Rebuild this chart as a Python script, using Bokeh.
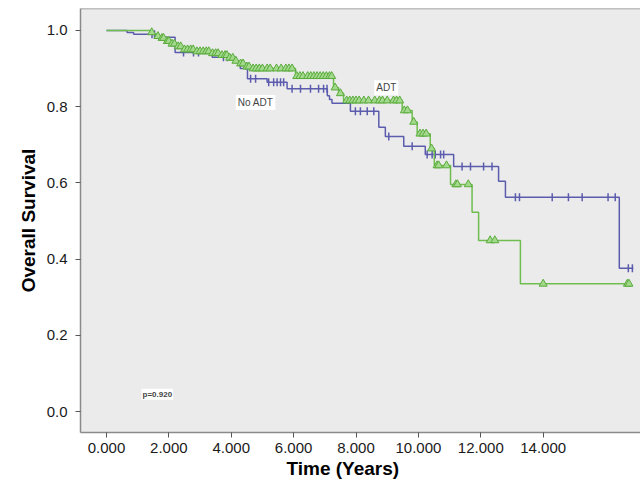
import math
from bokeh.plotting import figure
from bokeh.models import FixedTicker, PrintfTickFormatter, Label, Span, Range1d, Title
from bokeh.embed import file_html
from bokeh.resources import INLINE

# ---- data ----
# No ADT curve: step times (years) and survival levels
no_adt_t = [0.0, 0.66, 0.87, 1.67, 2.20, 3.39, 4.13, 4.29, 4.52, 5.15, 5.79, 7.08, 7.15,
            7.23, 7.82, 8.73, 8.94, 9.53, 10.22, 11.13, 12.57, 12.79, 16.44, 16.89]
no_adt_s = [1.0, 0.995, 0.99, 0.982, 0.942, 0.930, 0.917, 0.900, 0.873, 0.864, 0.847, 0.829,
            0.819, 0.809, 0.788, 0.746, 0.722, 0.696, 0.6745, 0.643, 0.604, 0.5625, 0.376, 0.376]
# No ADT censored observations
no_adt_cens_t = [1.46, 1.54, 2.47, 2.79, 2.95, 3.75, 3.88, 4.62, 4.78, 5.20, 5.36, 5.47, 5.58,
                 5.68, 5.95, 6.22, 6.54, 6.80, 6.96, 7.07, 7.98, 8.14, 8.36, 8.57, 9.05, 9.80,
                 10.28, 10.44, 10.54, 10.71, 10.81, 11.40, 11.67, 12.09, 12.36, 13.11, 13.24,
                 14.29, 14.81, 15.25, 16.08, 16.31, 16.73, 16.86]
no_adt_cens_s = [0.99, 0.99, 0.942, 0.942, 0.942, 0.930, 0.930, 0.873, 0.873, 0.864, 0.864,
                 0.864, 0.864, 0.864, 0.847, 0.847, 0.847, 0.847, 0.847, 0.847, 0.788, 0.788,
                 0.788, 0.788, 0.722, 0.696, 0.6745, 0.6745, 0.6745, 0.6745, 0.6745, 0.643,
                 0.643, 0.643, 0.643, 0.5625, 0.5625, 0.5625, 0.5625, 0.5625, 0.5625, 0.5625,
                 0.376, 0.376]

# ADT curve
adt_t = [0.0, 1.41, 1.60, 1.73, 1.89, 2.05, 2.24, 2.44, 2.85, 3.33, 3.65, 3.91, 4.10, 4.23,
         4.42, 4.62, 6.06, 7.28, 7.44, 7.60, 9.48, 9.80, 9.96, 10.38, 10.51, 11.03, 11.72,
         11.93, 13.27, 16.79]
adt_s = [1.0, 0.99, 0.985, 0.98, 0.972, 0.965, 0.958, 0.95, 0.945, 0.94, 0.935, 0.928, 0.92,
         0.913, 0.905, 0.90, 0.88, 0.85, 0.835, 0.816, 0.79, 0.76, 0.729, 0.69, 0.6457, 0.596,
         0.523, 0.449, 0.335, 0.335]
# ADT censored observations
adt_cens_t = [1.45, 1.65, 1.78, 1.83, 1.95, 2.0, 2.1, 2.18, 2.3, 2.38, 2.5, 2.6, 2.7, 2.78,
              2.9, 3.0, 3.1, 3.2, 3.28, 3.4, 3.5, 3.58, 3.7, 3.8, 3.86, 3.95, 4.05, 4.15,
              4.3, 4.38, 4.5, 4.57, 4.7, 4.8, 4.9, 5.0, 5.15, 5.25, 5.45, 5.6, 5.75, 5.85,
              5.95, 6.1, 6.2, 6.3, 6.45, 6.55, 6.65, 6.75, 6.85, 6.95, 7.05, 7.15, 7.22,
              7.33, 7.5, 7.7, 7.8, 7.9, 8.0, 8.1, 8.25, 8.4, 8.6, 8.75, 8.85, 9.0, 9.2, 9.3,
              9.4, 9.55, 9.65, 9.85, 10.05, 10.15, 10.25, 10.42, 10.6, 10.65, 10.9, 11.2,
              11.25, 11.6, 12.3, 12.45, 14.0, 16.7, 16.75]
adt_cens_s = [0.995, 0.985, 0.98, 0.98, 0.972, 0.972, 0.965, 0.965, 0.958, 0.958, 0.95, 0.95,
              0.95, 0.95, 0.945, 0.945, 0.945, 0.945, 0.945, 0.94, 0.94, 0.94, 0.935, 0.935,
              0.935, 0.928, 0.928, 0.92, 0.913, 0.913, 0.905, 0.905, 0.90, 0.90, 0.90, 0.90,
              0.90, 0.90, 0.90, 0.90, 0.90, 0.90, 0.90, 0.88, 0.88, 0.88, 0.88, 0.88, 0.88,
              0.88, 0.88, 0.88, 0.88, 0.88, 0.88, 0.85, 0.835, 0.816, 0.816, 0.816, 0.816,
              0.816, 0.816, 0.816, 0.816, 0.816, 0.816, 0.816, 0.816, 0.816, 0.816, 0.79,
              0.79, 0.76, 0.729, 0.729, 0.729, 0.69, 0.6457, 0.6457, 0.6457, 0.596, 0.596,
              0.596, 0.449, 0.449, 0.335, 0.335, 0.335]

x_ticks = [0, 2, 4, 6, 8, 10, 12, 14]
y_ticks = [0.0, 0.2, 0.4, 0.6, 0.8, 1.0]
x_title = "Time (Years)"
y_title = "Overall Survival"

BLUE = "#5c5cae"
GREEN = "#6fbd4f"
FONT = "Liberation Sans"

p = figure(width=640, height=481, output_backend="svg", toolbar_location=None,
           x_range=Range1d(-0.833, 17.12), y_range=Range1d(-0.0551, 1.0577))
p.min_border_left = 80
p.min_border_right = 0
p.min_border_top = 8
p.min_border_bottom = 49
p.background_fill_color = "#ebebeb"
p.border_fill_color = "white"
p.outline_line_color = None
p.grid.visible = False

top = Span(location=1.0577, dimension="width", line_color="#8a8a8a", line_width=1.5)
p.add_layout(top)

for ax in (p.xaxis[0], p.yaxis[0]):
    ax.axis_line_color = "#8a8a8a"
    ax.axis_line_width = 1.5
    ax.major_tick_line_color = "#555555"
    ax.major_tick_line_width = 1
    ax.major_tick_in = 0
    ax.major_tick_out = 5
    ax.minor_tick_line_color = None
    ax.major_label_text_font = FONT
    ax.major_label_text_font_size = "15px"
    ax.major_label_text_color = "#1a1a1a"
    ax.axis_label_text_font = FONT
    ax.axis_label_text_font_size = "19px"
    ax.axis_label_text_font_style = "bold"
    ax.axis_label_text_color = "black"

p.xaxis.ticker = FixedTicker(ticks=x_ticks)
p.xaxis.formatter = PrintfTickFormatter(format="%.3f")
p.yaxis.ticker = FixedTicker(ticks=y_ticks)
p.yaxis.formatter = PrintfTickFormatter(format="%.1f")
p.yaxis.axis_label = y_title
p.xaxis.major_label_standoff = 5
p.yaxis.major_label_standoff = 8
p.yaxis.axis_label_standoff = 5

# x-axis title placed as in the reference (left of frame centre)
p.add_layout(Title(text=x_title, align="left", offset=206, text_font=FONT,
                   text_font_size="19px", text_font_style="bold", text_color="black",
                   standoff=0), "below")

# curves
p.step(no_adt_t, no_adt_s, mode="after", line_color=BLUE, line_width=1.5)
p.scatter(no_adt_cens_t, no_adt_cens_s, marker="dash", angle=math.pi / 2, size=8,
          line_color=BLUE, line_width=1.5)
p.step(adt_t, adt_s, mode="after", line_color=GREEN, line_width=1.5)
p.scatter(adt_cens_t, adt_cens_s, marker="triangle", size=8, line_color="#5aab3c",
          fill_color="#a3d98c", line_width=1)

# annotations
p.add_layout(Label(x=8.97, y=0.850, text="ADT", text_font=FONT, text_font_size="10px",
                   text_align="center", text_baseline="middle", background_fill_color="white",
                   padding=2))
p.add_layout(Label(x=4.78, y=0.811, text="No ADT", text_font=FONT, text_font_size="10px",
                   text_align="center", text_baseline="middle", background_fill_color="white",
                   padding=2))
p.add_layout(Label(x=1.63, y=0.045, text="p=0.920", text_font=FONT, text_font_size="8px",
                   text_font_style="bold", text_align="center", text_baseline="middle",
                   background_fill_color="white", padding=1))

open("out.html", "w").write(file_html(p, INLINE))
